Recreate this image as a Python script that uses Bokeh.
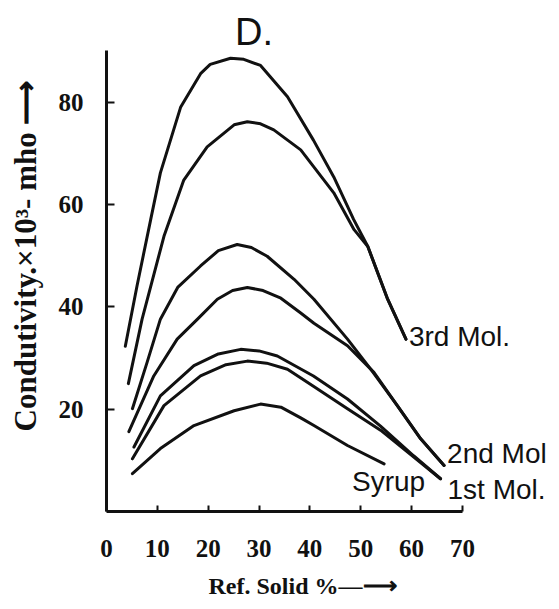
from bokeh.plotting import figure
from bokeh.models import Range1d, FixedTicker, Label, Title
from bokeh.embed import file_html
from bokeh.resources import INLINE

# ---- data ----
x_ticks = [0, 10, 20, 30, 40, 50, 60, 70]
y_ticks = [20, 40, 60, 80]

# 3rd molasses (two runs)
mol3a_x = [3.7, 6.0, 8.7, 10.6, 14.6, 18.5, 20.4, 24.4, 27.0, 30.3, 35.6, 40.7, 44.7, 48.6, 51.4, 55.3, 58.9]
mol3a_y = [32.3, 44.1, 57.1, 66.2, 79.1, 85.6, 87.4, 88.6, 88.4, 87.2, 81.1, 72.6, 65.4, 57.1, 51.8, 41.5, 33.7]
mol3b_x = [4.3, 7.0, 11.3, 15.2, 19.8, 25.1, 27.7, 30.3, 32.9, 38.2, 44.7, 48.7, 51.4, 55.3, 58.9]
mol3b_y = [25.0, 37.6, 53.8, 64.8, 71.3, 75.6, 76.2, 75.8, 74.6, 70.7, 62.3, 55.1, 51.8, 41.5, 33.7]
# 2nd molasses (two runs)
mol2a_x = [5.1, 8.0, 10.6, 14.0, 18.5, 22.0, 25.7, 28.5, 31.6, 36.9, 40.8, 47.4, 52.0, 57.2, 61.8, 66.4]
mol2a_y = [20.1, 29.2, 37.6, 43.8, 48.0, 51.0, 52.2, 51.6, 49.9, 45.4, 41.5, 33.7, 27.8, 20.7, 14.2, 9.0]
mol2b_x = [4.4, 9.3, 13.9, 17.9, 21.8, 24.8, 27.7, 30.8, 34.3, 38.2, 40.8, 47.4, 52.6, 57.2, 61.8, 66.4]
mol2b_y = [15.6, 26.5, 33.7, 37.6, 41.5, 43.2, 43.8, 43.2, 41.7, 38.8, 36.8, 32.4, 27.2, 20.7, 14.2, 9.0]
# 1st molasses (two runs)
mol1a_x = [5.4, 10.6, 17.2, 22.0, 26.4, 30.0, 33.6, 40.7, 47.4, 53.9, 60.4, 65.7]
mol1a_y = [12.6, 22.6, 28.5, 30.8, 31.7, 31.4, 30.4, 26.5, 22.0, 16.7, 10.9, 6.4]
mol1b_x = [5.1, 11.3, 18.5, 23.5, 27.7, 31.5, 35.6, 40.7, 47.4, 53.9, 60.5, 65.7]
mol1b_y = [10.3, 20.7, 26.5, 28.7, 29.4, 29.0, 27.8, 24.5, 20.1, 15.9, 10.6, 6.4]
# syrup
syrup_x = [5.1, 10.6, 17.2, 25.1, 30.3, 34.3, 38.2, 40.8, 47.4, 54.6]
syrup_y = [7.4, 12.3, 16.8, 19.7, 21.0, 20.4, 18.3, 16.8, 12.9, 9.3]

W, H = 559, 609
INK = "#111111"
SERIF = "Liberation Serif"
SANS = "Liberation Sans"

# frame reaches the top and right edges of the canvas so that the curve
# labels and the panel letter are not clipped; the axes keep their bounds.
p = figure(width=W, height=H, x_range=Range1d(0, 89.1), y_range=Range1d(0, 99.9),
           output_backend="svg", toolbar_location=None,
           min_border_left=106, min_border_right=0, min_border_top=0, min_border_bottom=96)
p.background_fill_color = "white"
p.border_fill_color = "white"
p.outline_line_color = None
p.grid.visible = False

xa, ya = p.xaxis[0], p.yaxis[0]
for ax in (xa, ya):
    ax.axis_line_color = INK
    ax.axis_line_width = 3
    ax.major_tick_line_color = INK
    ax.major_tick_line_width = 2
    ax.minor_tick_line_color = None
    ax.major_tick_out = 0
    ax.major_label_text_font = SERIF
    ax.major_label_text_font_style = "bold"
    ax.major_label_text_font_size = "25px"
    ax.major_label_text_color = INK

xa.ticker = FixedTicker(ticks=x_ticks)
ya.ticker = FixedTicker(ticks=y_ticks)
xa.bounds = (0, 70)
ya.bounds = (0, 90.2)
xa.major_tick_in = 6
ya.major_tick_in = 8
xa.major_label_standoff = 28
ya.major_label_standoff = 23

ya.axis_label = "Condutivity.\u00d710\u00b3- mho \u27f6"
ya.axis_label_text_font = SERIF
ya.axis_label_text_font_style = "bold"
ya.axis_label_text_color = INK
ya.axis_label_text_font_size = "31px"
ya.axis_label_standoff = 13

# x-axis title set as a title below the axis, shifted to where it stands
p.add_layout(Title(text="Ref. Solid %\u2014\u27f6", align="left", offset=102, standoff=22,
                   text_font=SERIF, text_font_style="bold", text_font_size="24px",
                   text_color=INK), "below")

series = [(mol3a_x, mol3a_y), (mol3b_x, mol3b_y), (mol2a_x, mol2a_y), (mol2b_x, mol2b_y),
          (mol1a_x, mol1a_y), (mol1b_x, mol1b_y), (syrup_x, syrup_y)]
for xs, ys in series:
    p.line(xs, ys, line_color=INK, line_width=3, line_join="round", line_cap="round")

def tag(text, x, y, dx, dy, align="left"):
    p.add_layout(Label(x=x, y=y, x_offset=dx, y_offset=dy, text=text,
                       text_font=SANS, text_font_size="28px", text_color=INK,
                       text_align=align, text_baseline="middle"))

tag("3rd Mol.", mol3a_x[-1], mol3a_y[-1], 3, 3)
tag("2nd Mol", mol2a_x[-1], mol2a_y[-1], 3, 12)
tag("1st Mol.", mol1a_x[-1], mol1a_y[-1], 7, -11)
tag("Syrup", syrup_x[-1], syrup_y[-1], 41, -18, align="right")

# panel letter above the curves
p.add_layout(Label(x=29.0, y=93.7, text="D.", text_font=SANS, text_font_size="38px",
                   text_color=INK, text_align="center", text_baseline="middle"))

open("out.html", "w").write(file_html(p, INLINE))
